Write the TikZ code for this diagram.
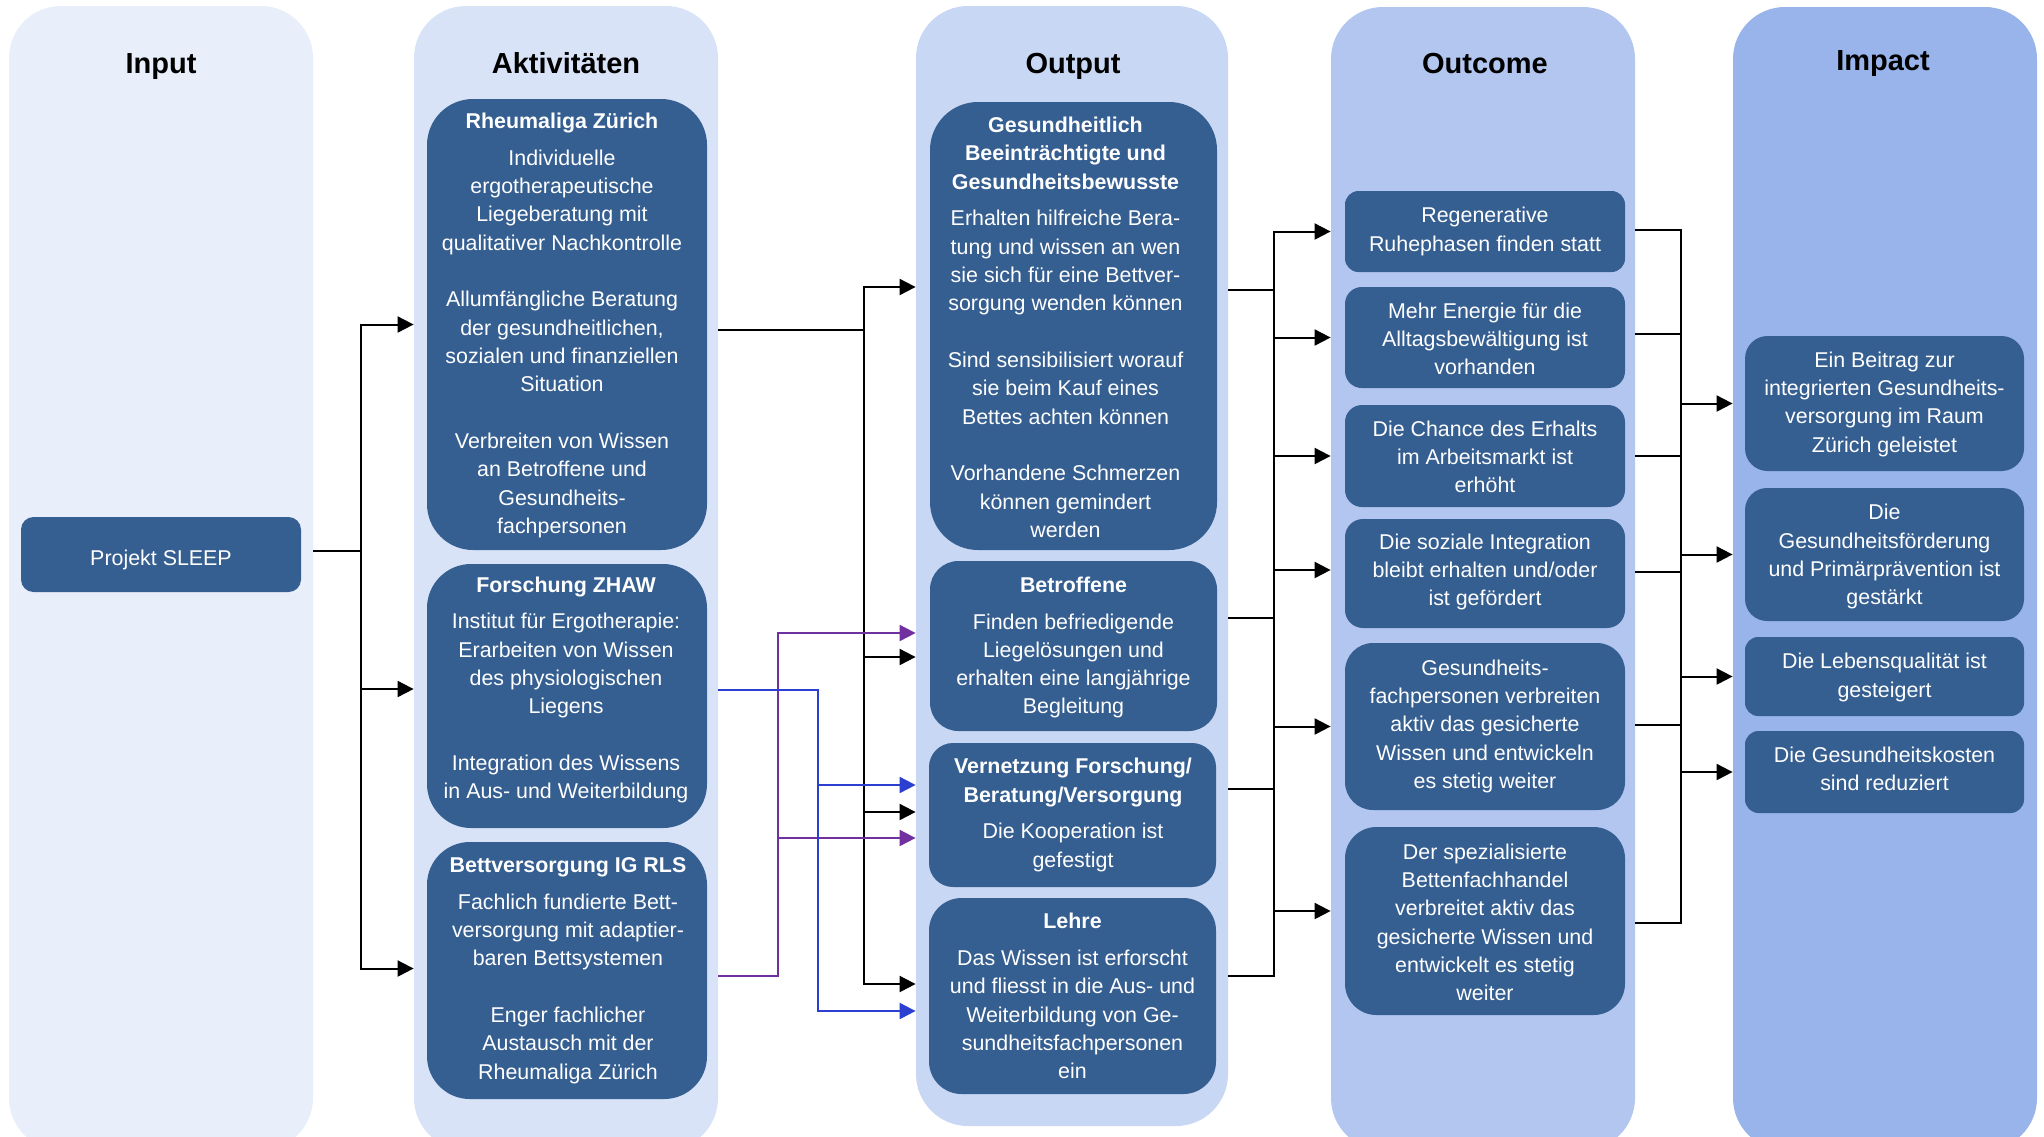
\documentclass[tikz,border=0pt]{standalone}
\usepackage{fontspec}
\setmainfont{Liberation Sans}
\usetikzlibrary{arrows.meta,calc}
\definecolor{cIn}{HTML}{E8EEFA}
\definecolor{cAk}{HTML}{D9E3F7}
\definecolor{cOut}{HTML}{C8D7F3}
\definecolor{cOc}{HTML}{B3C6F0}
\definecolor{cIm}{HTML}{98B4EA}
\definecolor{cBox}{HTML}{355E91}
\definecolor{cBlue}{HTML}{2B3FD0}
\definecolor{cPurp}{HTML}{7030A0}
\begin{document}
\begin{tikzpicture}[x=0.5pt,y=-0.5pt,
  col/.style={fill=#1, draw=none, rounded corners=26pt, minimum width=152pt, inner sep=0pt},
  ttl/.style={font=\fontsize{14.5}{17}\selectfont\bfseries, text=black, inner sep=0pt, anchor=base},
  box/.style={fill=cBox, draw=none, minimum width=140pt, inner sep=0pt},
  txt/.style={text=white, align=center, font=\fontsize{10.7}{14.16}\selectfont, inner sep=0pt},
  ln/.style={draw=black, line width=1pt},
  arr/.style={ln, -{Triangle[length=8pt,width=8pt]}},
  arrB/.style={draw=cBlue, line width=1pt, -{Triangle[length=8pt,width=8pt]}},
  arrP/.style={draw=cPurp, line width=1pt, -{Triangle[length=8pt,width=8pt]}},
]
\clip (0,0) rectangle (2044,1136);
\fill[white] (0,0) rectangle (2044,1136);

% columns
\node[col=cIn, minimum height=572pt] (colIn) at (161,578) {};
\node[col=cAk, minimum height=572pt] (colAk) at (566,578) {};
\node[col=cOut, minimum width=156pt, minimum height=560pt] (colOut) at (1072,566) {};
\node[col=cOc, minimum height=571.5pt] (colOc) at (1483,578.5) {};
\node[col=cIm, minimum height=571.5pt] (colIm) at (1885,578.5) {};

\node[ttl] (tIn) at (161,73.5) {Input};
\node[ttl] (tAk) at (566,73.5) {Aktivitäten};
\node[ttl] (tOut) at (1073,73.5) {Output};
\node[ttl] (tOc) at (1485,73.5) {Outcome};
\node[ttl] (tIm) at (1883,70.5) {Impact};

% Input
\node[box, minimum height=37.5pt, rounded corners=6.25pt] (SLEEP) at (161,554.5) {};
\node[txt] (SLEEPt) at (161,560) {Projekt SLEEP};

% Aktivitaeten
\node[box, minimum height=225.5pt, rounded corners=23pt] (A1) at (567,324.5) {};
\node[txt] (A1t) at (562,325.5) {\textbf{Rheumaliga Zürich}\\[4.2pt]
Individuelle\\ergotherapeutische\\Liegeberatung mit\\qualitativer Nachkontrolle\\[14.16pt]
Allumfängliche Beratung\\der gesundheitlichen,\\sozialen und finanziellen\\Situation\\[14.16pt]
Verbreiten von Wissen\\an Betroffene und\\Gesundheits-\\fachpersonen};

\node[box, minimum height=132pt, rounded corners=22pt] (A2) at (567,696) {};
\node[txt] (A2t) at (566,690) {\textbf{Forschung ZHAW}\\[4.2pt]
Institut für Ergotherapie:\\Erarbeiten von Wissen\\des physiologischen\\Liegens\\[14.16pt]
Integration des Wissens\\in Aus- und Weiterbildung};

\node[box, minimum height=128.5pt, rounded corners=21.4pt] (A3) at (567,970.5) {};
\node[txt] (A3t) at (568,970.5) {\textbf{Bettversorgung IG RLS}\\[4.2pt]
Fachlich fundierte Bett-\\versorgung mit adaptier-\\baren Bettsystemen\\[14.16pt]
Enger fachlicher\\Austausch mit der\\Rheumaliga Zürich};

% Output
\node[box, minimum width=143.5pt, minimum height=224pt, rounded corners=24pt] (O1) at (1073.5,326) {};
\node[txt] (O1t) at (1065.5,327.4) {\textbf{Gesundheitlich}\\\textbf{Beeinträchtigte und}\\\textbf{Gesundheitsbewusste}\\[4.2pt]
Erhalten hilfreiche Bera-\\tung und wissen an wen\\sie sich für eine Bettver-\\sorgung wenden können\\[14.16pt]
Sind sensibilisiert worauf\\sie beim Kauf eines\\Bettes achten können\\[14.16pt]
Vorhandene Schmerzen\\können gemindert\\werden};

\node[box, minimum width=143.5pt, minimum height=85pt, rounded corners=14.2pt] (O2) at (1073.5,646) {};
\node[txt] (O2t) at (1073.5,647.6) {\textbf{Betroffene}\\[4.2pt]
Finden befriedigende\\Liegelösungen und\\erhalten eine langjährige\\Begleitung};

\node[box, minimum width=143.5pt, minimum height=72pt, rounded corners=12pt] (O3) at (1072.5,815) {};
\node[txt] (O3t) at (1073,815) {\textbf{Vernetzung Forschung/}\\\textbf{Beratung/Versorgung}\\[4.2pt]
Die Kooperation ist\\gefestigt};

\node[box, minimum width=143.5pt, minimum height=98pt, rounded corners=16.3pt] (O4) at (1072.5,996) {};
\node[txt] (O4t) at (1072.5,996) {\textbf{Lehre}\\[4.2pt]
Das Wissen ist erforscht\\und fliesst in die Aus- und\\Weiterbildung von Ge-\\sundheitsfachpersonen\\ein};

% Outcome
\node[box, minimum height=40.5pt, rounded corners=6.75pt] (C1) at (1485,231.5) {};
\node[txt] (C1t) at (1485,231.3) {Regenerative\\Ruhephasen finden statt};
\node[box, minimum height=50.5pt, rounded corners=8.4pt] (C2) at (1485,337.5) {};
\node[txt] (C2t) at (1485,339) {Mehr Energie für die\\Alltagsbewältigung ist\\vorhanden};
\node[box, minimum height=51pt, rounded corners=8.5pt] (C3) at (1485,456) {};
\node[txt] (C3t) at (1485,457) {Die Chance des Erhalts\\im Arbeitsmarkt ist\\erhöht};
\node[box, minimum height=54.5pt, rounded corners=9pt] (C4) at (1485,573.5) {};
\node[txt] (C4t) at (1485,571.8) {Die soziale Integration\\bleibt erhalten und/oder\\ist gefördert};
\node[box, minimum height=83.5pt, rounded corners=14pt] (C5) at (1485,726.5) {};
\node[txt] (C5t) at (1485,726.2) {Gesundheits-\\fachpersonen verbreiten\\aktiv das gesicherte\\Wissen und entwickeln\\es stetig weiter};
\node[box, minimum height=94pt, rounded corners=15.7pt] (C6) at (1485,921) {};
\node[txt] (C6t) at (1485,922.3) {Der spezialisierte\\Bettenfachhandel\\verbreitet aktiv das\\gesicherte Wissen und\\entwickelt es stetig\\weiter};

% Impact
\node[box, minimum width=139.5pt, minimum height=67.5pt, rounded corners=11.25pt] (I1) at (1884.5,403.5) {};
\node[txt] (I1t) at (1884.5,404) {Ein Beitrag zur\\integrierten Gesundheits-\\versorgung im Raum\\Zürich geleistet};
\node[box, minimum width=139.5pt, minimum height=66.5pt, rounded corners=11pt] (I2) at (1884.5,554.5) {};
\node[txt] (I2t) at (1884.5,556.8) {Die\\Gesundheitsförderung\\und Primärprävention ist\\gestärkt};
\node[box, minimum width=139.5pt, minimum height=39.5pt, rounded corners=6.6pt] (I3) at (1884.5,676.5) {};
\node[txt] (I3t) at (1884.5,677.5) {Die Lebensqualität ist\\gesteigert};
\node[box, minimum width=139.5pt, minimum height=41pt, rounded corners=6.8pt] (I4) at (1884.5,772) {};
\node[txt] (I4t) at (1884.5,769) {Die Gesundheitskosten\\sind reduziert};

% ---------- connectors ----------
% Input -> Aktivitaeten
\coordinate (pIn) at ($(colIn.east |- SLEEP.center)+(0,-4)$);
\draw[arr] (pIn) -- ++(48,0) |- (colAk.west |- A1.center);
\draw[arr] (pIn) -- ++(48,0) |- ($(colAk.west |- A2.center)+(0,-7)$);
\draw[arr] (pIn) -- ++(48,0) |- ($(colAk.west |- A3.center)+(0,-2)$);

% Aktivitaeten -> Output (black)
\coordinate (pA1) at ($(colAk.east |- A1.center)+(0,5)$);
\draw[arr] (pA1) -- ++(146,0) |- ($(colOut.west |- O1.center)+(0,-39)$);
\draw[arr] (pA1) -- ++(146,0) |- ($(colOut.west |- O2.center)+(0,11)$);
\draw[arr] (pA1) -- ++(146,0) |- ($(colOut.west |- O3.center)+(0,-3)$);
\draw[arr] (pA1) -- ++(146,0) |- ($(colOut.west |- O4.center)+(0,-12)$);

% Bettversorgung (purple)
\coordinate (pA3) at ($(colAk.east |- A3.center)+(0,5.5)$);
\draw[arrP] (pA3) -- ++(60,0) |- ($(colOut.west |- O2.center)+(0,-13)$);
\draw[arrP] (pA3) -- ++(60,0) |- ($(colOut.west |- O3.center)+(0,23)$);

% Forschung (blue)
\coordinate (pA2) at ($(colAk.east |- A2.center)+(0,-6)$);
\draw[arrB] (pA2) -- ++(100,0) |- ($(colOut.west |- O3.center)+(0,-30)$);
\draw[arrB] (pA2) -- ++(100,0) |- ($(colOut.west |- O4.center)+(0,15)$);

% Output -> Outcome
\coordinate (pO1) at ($(colOut.east |- O1.center)+(0,-36)$);
\coordinate (pO2) at ($(colOut.east |- O2.center)+(0,-28)$);
\coordinate (pO3) at ($(colOut.east |- O3.center)+(0,-26)$);
\coordinate (pO4) at ($(colOut.east |- O4.center)+(0,-20)$);
\draw[ln] (pO1) -- ++(46,0);
\draw[ln] (pO2) -- ++(46,0);
\draw[ln] (pO3) -- ++(46,0);
\draw[arr] (pO4) -- ++(46,0) |- (colOc.west |- C1.center);
\draw[arr] (pO4) -- ++(46,0) |- (colOc.west |- C2.center);
\draw[arr] (pO4) -- ++(46,0) |- (colOc.west |- C3.center);
\draw[arr] (pO4) -- ++(46,0) |- ($(colOc.west |- C4.center)+(0,-3.5)$);
\draw[arr] (pO4) -- ++(46,0) |- (colOc.west |- C5.center);
\draw[arr] (pO4) -- ++(46,0) |- ($(colOc.west |- C6.center)+(0,-10)$);

% Outcome -> Impact
\coordinate (sC1) at ($(colOc.east |- C1.center)+(0,-1.5)$);
\coordinate (sC2) at ($(colOc.east |- C2.center)+(0,-3.5)$);
\coordinate (sC3) at (colOc.east |- C3.center);
\coordinate (sC4) at ($(colOc.east |- C4.center)+(0,-1.5)$);
\coordinate (sC5) at ($(colOc.east |- C5.center)+(0,-1.5)$);
\coordinate (sC6) at ($(colOc.east |- C6.center)+(0,2)$);
\draw[ln] (sC1) -- ++(46,0) |- (sC6);
\draw[ln] (sC2) -- ++(46,0);
\draw[ln] (sC3) -- ++(46,0);
\draw[ln] (sC4) -- ++(46,0);
\draw[ln] (sC5) -- ++(46,0);
\draw[arr] (sC1) -- ++(46,0) |- (colIm.west |- I1.center);
\draw[arr] (sC1) -- ++(46,0) |- (colIm.west |- I2.center);
\draw[arr] (sC1) -- ++(46,0) |- (colIm.west |- I3.center);
\draw[arr] (sC1) -- ++(46,0) |- (colIm.west |- I4.center);
\end{tikzpicture}
\end{document}
